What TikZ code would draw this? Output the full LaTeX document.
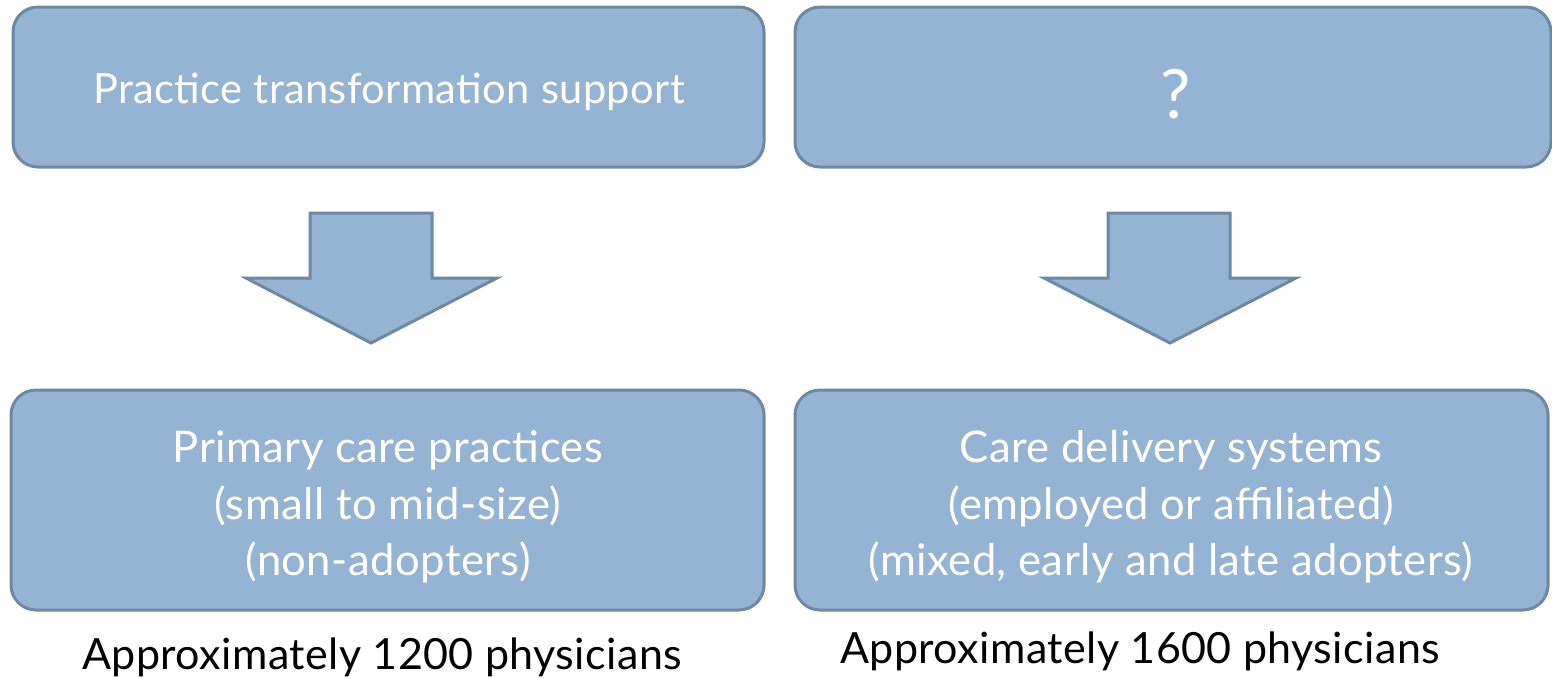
\documentclass[tikz,border=0pt]{standalone}
\usepackage{fontspec}
\setmainfont{Lato}[LetterSpace=1]
\definecolor{boxfill}{HTML}{95B3D2}
\definecolor{boxline}{HTML}{6D89A2}
\begin{document}
\begin{tikzpicture}[x=0.5pt,y=-0.5pt,
    stage/.style={draw=boxline,fill=boxfill,line width=1.5pt,rounded corners=12.5pt,
      text=white,align=center,font=\fontsize{21.8}{28.3}\selectfont},
    bigarrow/.style={draw=boxline,fill=boxfill,line width=1.5pt,line join=miter},
    tally/.style={font=\fontsize{21.5}{24}\selectfont}]
  \useasboundingbox (0,0) rectangle (1552,677);
  % top row
  \node[stage,minimum width=375.5pt,minimum height=80pt] (support) at (388.5,87) {};
  \node (supporttext) at (389,92) [text=white,font=\fontsize{20.8}{24}\selectfont] {Practice transformation support};
  \node[stage,minimum width=378pt,minimum height=80pt] (unknown) at (1173,87) {};
  \node (unknowntext) at (1176,94) [text=white,font=\fontsize{34}{36}\selectfont] {?};
  % bottom row
  \node[stage,minimum width=376.5pt,minimum height=110pt] (primary) at (387.5,500) {};
  \node[stage,draw=none,fill=none] (primarytext) at (388,507)
    {Primary care practices\\(small to mid-size)\\(non-adopters)};
  \node[stage,minimum width=376.5pt,minimum height=110pt] (delivery) at (1171.5,500) {};
  \node[stage,draw=none,fill=none] (deliverytext) at (1171,507)
    {Care delivery systems\\(employed or affiliated)\\(mixed, early and late adopters)};
  % block arrows
  \draw[bigarrow] (310,213) -- (432,213) -- (432,278) -- (497,278) -- (371,343) -- (246,278) -- (310,278) -- cycle;
  \draw[bigarrow] (1108,213) -- (1230,213) -- (1230,278) -- (1296,278) -- (1170,343) -- (1044,278) -- (1108,278) -- cycle;
  % counts
  \node[tally] (leftcount) at (382,657) {Approximately 1200 physicians};
  \node[tally] (rightcount) at (1140,651) {Approximately 1600 physicians};
\end{tikzpicture}
\end{document}
